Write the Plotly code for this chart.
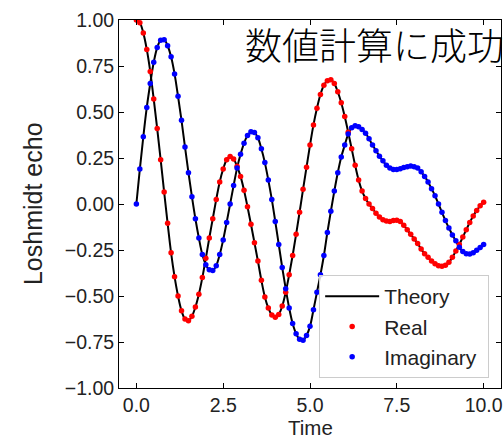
import numpy as np
import plotly.graph_objects as go

# time grid (dt = 0.1)
time = np.linspace(0, 10, 101)

real_vals = [
    1.0, 0.985, 0.93, 0.84, 0.72, 0.57, 0.41, 0.24, 0.065, -0.105,
    -0.265, -0.395, -0.50, -0.58, -0.625, -0.635, -0.61, -0.56, -0.49, -0.40,
    -0.295, -0.185, -0.08, 0.025, 0.12, 0.19, 0.24, 0.258, 0.245, 0.205,
    0.15, 0.075, -0.015, -0.11, -0.21, -0.31, -0.415, -0.505, -0.565, -0.603,
    -0.615, -0.60, -0.555, -0.48, -0.385, -0.28, -0.165, -0.045, 0.08, 0.20,
    0.32, 0.43, 0.52, 0.595, 0.645, 0.67, 0.675, 0.655, 0.61, 0.55,
    0.475, 0.39, 0.30, 0.21, 0.13, 0.07, 0.03, 0.0, -0.025, -0.05,
    -0.07, -0.085, -0.093, -0.095, -0.09, -0.088, -0.095, -0.115, -0.14, -0.165,
    -0.19, -0.215, -0.245, -0.27, -0.29, -0.31, -0.325, -0.335, -0.338, -0.333,
    -0.317, -0.29, -0.255, -0.22, -0.18, -0.14, -0.10, -0.065, -0.035, -0.01,
    0.01,
]

imag_vals = [
    0.0, 0.19, 0.365, 0.525, 0.655, 0.77, 0.85, 0.89, 0.893, 0.86,
    0.80, 0.707, 0.585, 0.455, 0.31, 0.17, 0.04, -0.08, -0.185, -0.275,
    -0.33, -0.358, -0.362, -0.335, -0.275, -0.195, -0.10, 0.0, 0.10, 0.195,
    0.27, 0.33, 0.372, 0.392, 0.388, 0.36, 0.30, 0.225, 0.13, 0.025,
    -0.095, -0.22, -0.345, -0.46, -0.565, -0.65, -0.705, -0.735, -0.74, -0.715,
    -0.665, -0.575, -0.48, -0.385, -0.28, -0.155, -0.04, 0.07, 0.17, 0.255,
    0.32, 0.38, 0.415, 0.425, 0.42, 0.405, 0.385, 0.355, 0.32, 0.29,
    0.26, 0.235, 0.21, 0.195, 0.188, 0.187, 0.192, 0.198, 0.203, 0.206,
    0.203, 0.195, 0.175, 0.15, 0.12, 0.083, 0.045, 0.0, -0.045, -0.09,
    -0.13, -0.168, -0.20, -0.235, -0.258, -0.27, -0.272, -0.265, -0.252, -0.237,
    -0.22,
]

x_tickvals = [0, 2.5, 5, 7.5, 10]
x_ticktext = ["0.0", "2.5", "5.0", "7.5", "10.0"]
y_tickvals = [1.0, 0.75, 0.5, 0.25, 0.0, -0.25, -0.5, -0.75, -1.0]
y_ticktext = ["1.00", "0.75", "0.50", "0.25", "0.00", "\u22120.25", "\u22120.50", "\u22120.75", "\u22121.00"]

FONT = "Arial, Liberation Sans, sans-serif"
TXT = "#222222"

fig = go.Figure()
fig.add_trace(go.Scatter(x=time, y=real_vals, mode="lines", name="Theory",
                         line=dict(color="black", width=2, shape="spline"),
                         showlegend=True))
fig.add_trace(go.Scatter(x=time, y=imag_vals, mode="lines", name="Theory",
                         line=dict(color="black", width=2, shape="spline"),
                         showlegend=False))
fig.add_trace(go.Scatter(x=time, y=real_vals, mode="markers", name="Real",
                         marker=dict(color="#ff0000", size=5.5)))
fig.add_trace(go.Scatter(x=time, y=imag_vals, mode="markers", name="Imaginary\u00a0",
                         marker=dict(color="#0000ff", size=5.5)))

axis_common = dict(
    showgrid=False, zeroline=False, showline=True, linecolor="black", linewidth=1,
    mirror="ticks", ticks="inside", ticklen=5, tickwidth=1, tickcolor="black",
    tickfont=dict(family=FONT, size=19.5, color=TXT), automargin=False,
)

fig.update_layout(
    width=504, height=438,
    margin=dict(l=119, r=3, t=20, b=50),
    paper_bgcolor="white", plot_bgcolor="white",
    xaxis=dict(range=[-0.5, 10.5], tickvals=x_tickvals, ticktext=x_ticktext, **axis_common),
    yaxis=dict(range=[-1, 1], tickvals=y_tickvals, ticktext=y_ticktext, **axis_common),
    legend=dict(x=0.969, y=0.027, xanchor="right", yanchor="bottom",
                bgcolor="rgba(255,255,255,0.8)", bordercolor="#cccccc", borderwidth=1,
                itemwidth=54,
                font=dict(family=FONT, size=21, color=TXT)),
    annotations=[
        dict(text="数値計算に成功", xref="paper", yref="paper",
             x=0.325, y=0.936, xanchor="left", yanchor="middle", showarrow=False,
             font=dict(family="Noto Sans CJK JP Light, Noto Sans CJK JP DemiLight, Noto Sans CJK JP",
                       size=37, color="black", weight=300)),
        dict(text="Time", xref="paper", yref="paper",
             x=0.5, y=-0.106, xanchor="center", yanchor="middle", showarrow=False,
             font=dict(family=FONT, size=20.5, color=TXT)),
        dict(text="Loshmidt echo", xref="paper", yref="paper", textangle=-90,
             x=-0.225, y=0.5, xanchor="center", yanchor="middle", showarrow=False,
             font=dict(family=FONT, size=25, color=TXT)),
    ],
)

fig.write_html("out.html", config={"displayModeBar": False},
               post_script="document.body.style.margin='0';document.body.style.padding='0';")
